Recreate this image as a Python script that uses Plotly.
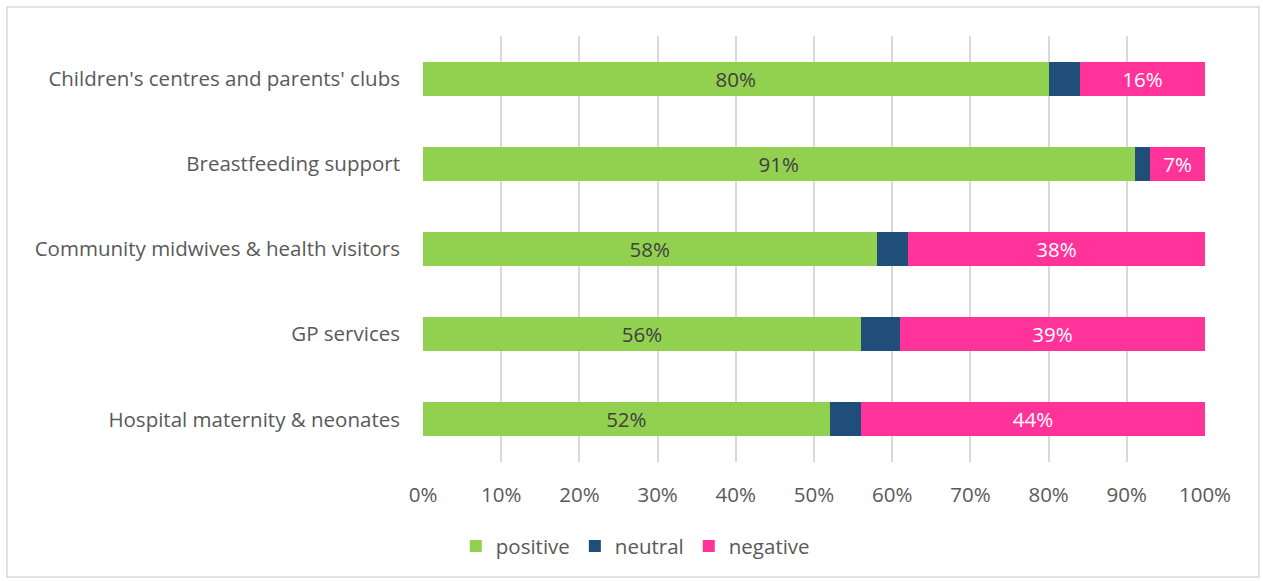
import plotly.graph_objects as go

# Survey service categories (bottom to top as drawn)
categories = [
    "Hospital maternity & neonates",
    "GP services",
    "Community midwives & health visitors",
    "Breastfeeding support",
    "Children's centres and parents' clubs",
]
positive = [52, 56, 58, 91, 80]
neutral = [4, 5, 4, 2, 4]
negative = [44, 39, 38, 7, 16]

tick_vals = [0, 10, 20, 30, 40, 50, 60, 70, 80, 90, 100]
tick_text = ["0%", "10%", "20%", "30%", "40%", "50%", "60%", "70%", "80%", "90%", "100%"]

FONT = "Open Sans"
SIZE = 20.5
fig = go.Figure()

fig.add_trace(go.Bar(
    y=categories, x=positive, name="positive", orientation="h",
    marker=dict(color="#92D050", line=dict(width=0)),
    text=[f"{v}%" for v in positive], textposition="inside",
    insidetextanchor="middle",
    textfont=dict(family=FONT, size=SIZE, color="#404040"),
    width=0.4,
))
fig.add_trace(go.Bar(
    y=categories, x=neutral, name="neutral", orientation="h",
    marker=dict(color="#1F4E79", line=dict(width=0)),
    width=0.4,
))
fig.add_trace(go.Bar(
    y=categories, x=negative, name="negative", orientation="h",
    marker=dict(color="#FF3399", line=dict(width=0)),
    text=[f"{v}%" for v in negative], textposition="inside",
    insidetextanchor="middle",
    textfont=dict(family=FONT, size=SIZE, color="#FFFFFF"),
    width=0.4,
))

fig.update_layout(
    barmode="stack",
    width=1263, height=581,
    margin=dict(l=423, r=58, t=36, b=119, autoexpand=False),
    paper_bgcolor="white", plot_bgcolor="white",
    font=dict(family=FONT, size=SIZE, color="#595959"),
    uniformtext=dict(minsize=SIZE, mode="show"),
    showlegend=True,
    legend=dict(
        orientation="h", xref="container", yref="container",
        x=0.503, y=0.06, xanchor="center", yanchor="middle",
        font=dict(family=FONT, size=SIZE, color="#595959"),
        itemwidth=30, traceorder="normal",
    ),
    xaxis=dict(
        range=[0, 100], tickvals=tick_vals, ticktext=tick_text,
        showgrid=True, gridcolor="#D9D9D9", gridwidth=2,
        zeroline=False, showline=False, ticks="", ticklabelstandoff=18,
        tickfont=dict(family=FONT, size=SIZE, color="#595959"),
    ),
    yaxis=dict(
        showgrid=False, zeroline=False, showline=False, ticks="",
        ticklabelstandoff=22,
        tickfont=dict(family=FONT, size=SIZE, color="#595959"),
    ),
    shapes=[dict(
        type="rect", xref="paper", yref="paper",
        x0=-0.532, x1=1.069, y0=-0.2700, y1=1.0680,
        line=dict(color="#D9D9D9", width=1.5), fillcolor="rgba(0,0,0,0)",
        layer="below",
    )],
)

fig.write_html("out.html")
